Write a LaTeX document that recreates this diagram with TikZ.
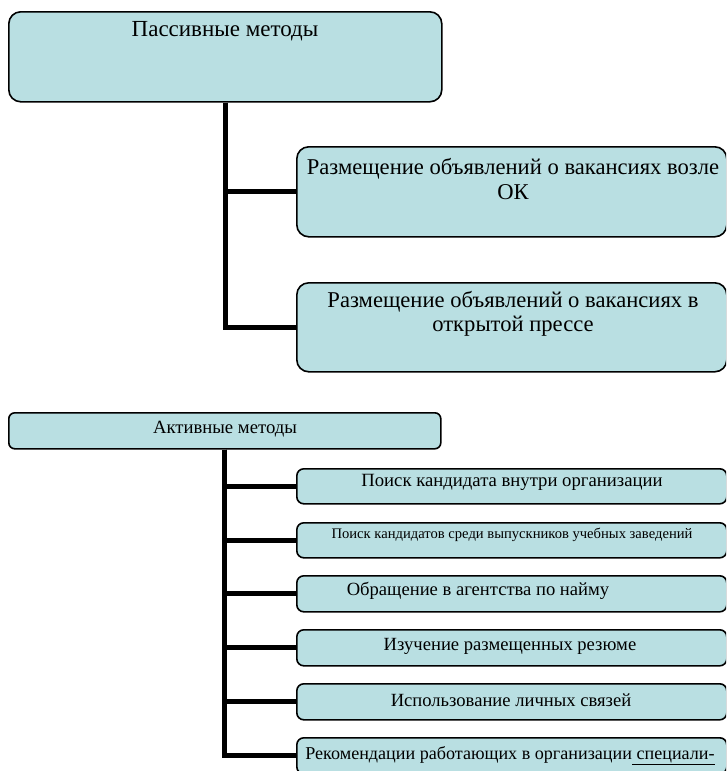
\documentclass[tikz,border=0pt]{standalone}
\usepackage{fontspec}
\setmainfont{Liberation Serif}
\definecolor{boxfill}{RGB}{185,223,226}
\begin{document}
\begin{tikzpicture}[x=1pt,y=-1pt,
  box/.style={draw=black, line width=1.6pt, fill=boxfill, rounded corners=7pt, inner sep=0pt, anchor=north west},
  conn/.style={draw=black, line width=5pt},
  txt/.style={inner sep=0pt, align=center, text=black}]
\useasboundingbox (0,0) rectangle (726,771);
\clip (0,0) rectangle (726,771);
% passive branch
\node[box, rounded corners=12pt, minimum width=433pt, minimum height=90pt] (p) at (8,11) {};
\node[box, rounded corners=12pt, minimum width=430pt, minimum height=90pt] (b2) at (296,146) {};
\node[box, rounded corners=12pt, minimum width=430pt, minimum height=89pt] (b3) at (296,282) {};
\draw[conn] (p.south) |- (b2.west);
\draw[conn] (p.south) |- (b3.west);
\node[txt, font=\fontsize{23}{26}\selectfont] (pt) at (225,31) {Пассивные методы};
\node[txt, font=\fontsize{22.6}{24.5}\selectfont] (b2t) at (513,179) {Размещение объявлений о вакансиях возле\\ОК};
\node[txt, font=\fontsize{22.6}{24.5}\selectfont] (b3t) at (513,314) {Размещение объявлений о вакансиях в\\открытой прессе};
% active branch
\node[box, rounded corners=6pt, minimum width=432pt, minimum height=36pt] (a) at (8,412) {};
\node[box, minimum width=430pt, minimum height=35pt] (s1) at (296,468) {};
\node[box, minimum width=430pt, minimum height=35pt] (s2) at (296,522) {};
\node[box, minimum width=430pt, minimum height=36pt] (s3) at (296,575) {};
\node[box, minimum width=430pt, minimum height=36pt] (s4) at (296,629) {};
\node[box, minimum width=430pt, minimum height=36pt] (s5) at (296,683) {};
\node[box, minimum width=430pt, minimum height=36pt] (s6) at (296,737) {};
\foreach \s in {s1,s2,s3,s4,s5,s6} \draw[conn] (a.south) |- (\s.west);
\node[txt, font=\fontsize{18.7}{21}\selectfont] (at) at (225,429) {Активные методы};
\node[txt, font=\fontsize{18.7}{21}\selectfont] (s1t) at (512,482) {Поиск кандидата внутри организации};
\node[txt, font=\fontsize{14.6}{17}\selectfont] (s2t) at (512,535) {Поиск кандидатов среди выпускников учебных заведений};
\node[txt, font=\fontsize{18.6}{21}\selectfont] (s3t) at (478,591) {Обращение в агентства по найму};
\node[txt, font=\fontsize{18.6}{21}\selectfont] (s4t) at (510,646) {Изучение размещенных резюме};
\node[txt, font=\fontsize{18.6}{21}\selectfont] (s5t) at (511,700) {Использование личных связей};
\node[txt, font=\fontsize{18.1}{22}\selectfont, anchor=north] (s6t) at (510,746) {Рекомендации работающих в организации\underline{ специали-}\\стов};
\end{tikzpicture}
\end{document}
